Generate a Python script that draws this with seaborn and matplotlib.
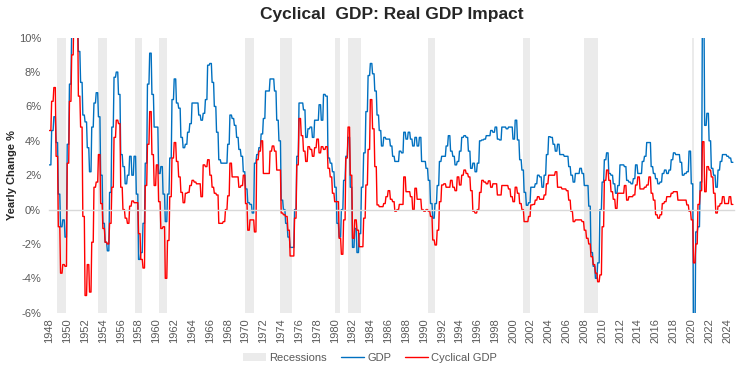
import numpy as np
import pandas as pd
import seaborn as sns
import matplotlib.pyplot as plt
from matplotlib.patches import Patch
from matplotlib.lines import Line2D

# quarterly data, first value = 1948 Q1
start_year = 1948

# Real GDP, yearly change in %
gdp_yoy = [
    2.6, 4.6, 5.4, 3.9,      0.9, -1.0, -0.6, -1.6,   3.8, 7.3, 10.5, 12.5,   11.5, 9.2, 7.4, 5.5,
    5.1, 3.6, 2.2, 4.8,      6.2, 6.8, 5.4, 2.0,      -0.8, -1.9, -2.4, 1.0,  4.8, 7.7, 8.0, 6.7,
    3.2, 2.5, 1.5, 2.0,      3.1, 2.0, 3.1, 0.9,      -2.9, -2.5, -0.8, 2.7,  7.3, 9.1, 6.7, 4.8,
    4.8, 2.1, 2.5, 0.9,      -0.7, 0.9, 3.0, 6.4,     7.6, 6.2, 5.9, 4.2,     3.6, 3.8, 4.5, 5.0,
    6.2, 6.2, 6.2, 5.5,      5.2, 5.6, 6.4, 8.4,      8.5, 7.4, 6.0, 4.5,     2.9, 2.7, 2.7, 2.7,
    3.8, 5.5, 5.3, 4.9,      4.2, 3.5, 3.1, 2.2,      1.2, 0.4, 0.3, -0.2,    2.7, 3.2, 3.6, 4.4,
    5.3, 6.9, 6.9, 7.6,      7.6, 6.9, 5.2, 4.0,      0.55, 0.0, -0.8, -1.6,  -2.2, -2.2, 0.0, 3.1,
    6.2, 6.2, 5.8, 4.2,      4.7, 4.8, 4.2, 5.2,      5.2, 6.1, 5.2, 6.7,     6.6, 3.0, 2.7, 2.2,
    1.3, -0.8, -1.6, 0.0,    1.7, 3.1, 4.2, 1.3,      -2.2, -1.1, -2.5, -1.4, 1.3, 3.3, 5.7, 7.8,
    8.5, 7.9, 6.9, 5.5,      4.6, 3.7, 4.2, 4.1,      4.1, 3.7, 3.1, 2.8,     2.8, 3.4, 3.3, 4.5,
    4.1, 4.5, 4.1, 3.7,      4.2, 3.7, 4.2, 2.8,      2.8, 2.4, 1.7, 0.35,    -0.5, 0.35, 1.4, 2.8,
    3.1, 3.1, 3.7, 4.3,      3.4, 3.1, 2.6, 2.8,      3.4, 4.2, 4.3, 4.2,     3.4, 2.4, 2.7, 2.2,
    2.7, 4.0, 4.05, 4.1,     4.3, 4.3, 4.6, 4.5,      4.8, 4.1, 4.05, 4.8,    4.8, 4.7, 4.8, 4.8,
    4.1, 5.2, 4.05, 2.9,     2.3, 1.0, 0.25, 0.4,     1.3, 1.3, 1.5, 2.0,     1.9, 1.3, 2.0, 3.2,
    4.24, 4.2, 3.8, 3.4,     3.8, 3.2, 3.2, 3.1,      3.1, 2.5, 2.0, 1.6,     2.1, 2.1, 2.4, 2.1,
    1.4, 1.4, 0.2, -2.5,     -3.3, -4.0, -3.1, 0.0,   1.6, 2.9, 3.3, 2.1,     2.0, 1.5, 0.95, 1.4,
    2.6, 2.6, 2.5, 1.7,      1.6, 1.5, 1.8, 2.6,      2.1, 2.1, 2.8, 3.1,     3.9, 3.9, 2.5, 2.1,
    1.8, 1.5, 1.6, 2.1,      2.3, 2.1, 2.3, 2.9,      3.3, 3.2, 3.2, 2.75,    2.0, 2.1, 2.2, 3.4,
    1.5, -7.5, -1.3, -1.0,   1.6, 12.0, 4.9, 5.6,     4.0, 2.4, 2.0, 1.3,     2.3, 2.8, 3.2, 3.2,
    3.1, 3.0, 2.75,
]

# Cyclical GDP, yearly change in %
cyclical_gdp = [
    4.6, 6.3, 7.1, 3.1,      -1.0, -3.7, -3.2, -3.3,  2.7, 6.3, 9.0, 11.5,    11.5, 6.6, 4.8, -0.4,
    -5.0, -3.2, -4.8, -1.9,  1.3, 1.6, 3.2, 0.35,     -1.1, -1.9, -2.0, -0.8, 1.3, 4.2, 5.2, 5.0,
    1.3, 0.0, -0.5, -0.8,    0.2, 0.5, 0.4, 0.4,      -1.4, -2.9, -3.4, 1.4,  3.8, 5.7, 3.2, 1.4,
    2.6, 0.46, -1.1, -1.0,   -4.0, -1.8, 0.75, 3.0,   3.9, 2.8, 1.9, 1.0,     0.4, 0.95, 1.0, 1.4,
    1.7, 1.6, 1.5, 1.5,      0.75, 2.6, 2.5, 2.9,     2.0, 1.3, 0.95, 0.85,   -0.8, -0.8, -0.7, 0.0,
    0.8, 2.7, 1.9, 1.9,      1.9, 1.3, 1.4, 2.0,      0.35, -1.2, -0.6, -0.6, -1.3, 2.9, 3.4, 4.0,
    2.1, 2.1, 2.1, 3.4,      3.7, 3.4, 2.3, 2.3,      -0.2, -0.3, -0.4, -1.2, -2.7, -2.7, -0.5, 2.6,
    5.3, 4.3, 3.4, 2.8,      3.66, 3.5, 3.1, 3.6,     4.1, 3.3, 3.66, 3.5,    3.66, 2.4, 1.9, 0.95,
    0.46, 0.46, -1.67, -2.6, -0.6, 3.0, 4.8, 2.0,     -1.67, -0.6, -1.2, -2.16, -2.16, -0.5, 1.43, 3.5,
    6.4, 4.7, 2.5, 0.27,     0.17, 0.17, 0.35, 0.75,  1.1, 0.6, 0.46, -0.1,   0.0, 0.3, 0.3, 1.9,
    1.04, 1.04, 0.75, 0.0,   1.24, 0.6, 0.6, 0.0,     -0.1, 0.0, -0.1, -0.4,  -1.77, -2.06, -1.2, 0.46,
    1.43, 1.5, 1.3, 1.3,     1.7, 1.3, 1.1, 1.9,      1.43, 2.0, 2.3, 2.1,    1.9, 1.1, -0.1, -0.2,
    0.0, 1.0, 1.7, 1.6,      1.5, 1.67, 1.3, 1.5,     1.5, 0.85, 0.85, 1.4,   1.4, 1.4, 1.2, 0.75,
    0.46, 1.3, 0.95, 0.35,   0.0, -0.7, -0.7, -0.4,   0.27, 0.3, 0.55, 0.75,  0.6, 0.6, 0.85, 1.5,
    2.0, 2.0, 2.0, 2.2,      1.3, 1.3, 1.2, 1.2,      1.1, 0.55, -0.1, -0.7,  -0.6, -0.6, -0.6, -0.7,
    -1.2, -1.67, -2.0, -2.74, -3.2, -3.7, -4.2, -3.8, -1.0, 1.7, 2.3, 1.7,    1.04, 0.6, 0.07, 0.95,
    0.95, 0.95, 1.4, 0.55,   0.75, 0.75, 0.85, 1.43,  1.9, 1.2, 1.2, 1.3,     1.43, 1.9, 0.95, 0.55,
    -0.3, -0.5, -0.3, 0.35,  0.46, 0.75, 0.75, 0.95,  1.04, 1.04, 0.55, 0.55, 0.55, 0.55, 0.27, -0.1,
    -0.6, -3.1, -2.0, 0.3,   1.1, 3.95, 1.04, 2.5,    2.3, 1.9, 0.95, -0.2,   0.2, 0.35, 0.75, 0.35,
    0.35, 0.75, 0.3,
]

# NBER recessions (start year, start month, end year, end month)
recessions = [
    (1948, 11, 1949, 10), (1953, 7, 1954, 5), (1957, 8, 1958, 4), (1960, 4, 1961, 2),
    (1969, 12, 1970, 11), (1973, 11, 1975, 3), (1980, 1, 1980, 7), (1981, 7, 1982, 11),
    (1990, 7, 1991, 3), (2001, 3, 2001, 11), (2007, 12, 2009, 6), (2020, 2, 2020, 4),
]

tick_years = list(range(1948, 2025, 2))
y_ticks = [-6, -4, -2, 0, 2, 4, 6, 8, 10]

blue = "#0070C0"
red = "#FF0000"
grey_text = "#595959"

##################### monthly frame (each quarter held for 3 months) #####################
n_months = len(gdp_yoy) * 3
t = start_year + np.arange(n_months) / 12
df = pd.DataFrame({
    "t": np.tile(t, 2),
    "value": np.concatenate([np.repeat(gdp_yoy, 3), np.repeat(cyclical_gdp, 3)]),
    "series": ["GDP"] * n_months + ["Cyclical GDP"] * n_months,
})

sns.set_theme(style="white")
plt.rcParams["font.family"] = ["Liberation Sans", "DejaVu Sans"]

fig = plt.figure(figsize=(7.5, 3.74), dpi=100)
ax = fig.add_axes([49.4 / 750, 61.3 / 374, (734 - 49.4) / 750, 275 / 374])

# recession bands
for y0, m0, y1, m1 in recessions:
    ax.axvspan(y0 + (m0 - 1) / 12, y1 + m1 / 12, color="#ebebeb", lw=0, zorder=0)

sns.lineplot(data=df, x="t", y="value", hue="series", hue_order=["GDP", "Cyclical GDP"],
             palette={"GDP": blue, "Cyclical GDP": red}, estimator=None,
             linewidth=1.0, legend=False, ax=ax)

ax.set_xlim(1948, 1948 + (734 - 49.4) / 8.915)
ax.set_ylim(-6, 10)
ax.set_xlabel("")
ax.set_ylabel("")

# y axis
ax.set_yticks(y_ticks)
ax.set_yticklabels([f"{v}%" for v in y_ticks], color=grey_text, fontsize=8)
ax.tick_params(axis="y", length=0, pad=6)

# zero line with small ticks
for s in ["top", "right", "left"]:
    ax.spines[s].set_visible(False)
ax.spines["bottom"].set_position(("data", 0))
ax.spines["bottom"].set_color("#d9d9d9")
ax.spines["bottom"].set_linewidth(1.0)
ax.set_xticks(tick_years)
ax.tick_params(axis="x", direction="out", length=3, color="#d9d9d9", labelbottom=False)

# year labels at the bottom
sec = ax.secondary_xaxis("bottom")
sec.set_xticks(tick_years)
sec.set_xticklabels([str(y) for y in tick_years], rotation=90, color=grey_text, fontsize=8)
sec.tick_params(length=0, pad=4)
sec.spines["bottom"].set_visible(False)

# titles
fig.text(392 / 750, 1 - 14 / 374, "Cyclical  GDP: Real GDP Impact", ha="center", va="center",
         fontsize=12.5, fontweight="bold")
fig.text(12 / 750, 1 - 175 / 374, "Yearly Change %", rotation=90, ha="center", va="center",
         fontsize=8, fontweight="bold")

# legend
handles = [Patch(facecolor="#ebebeb", edgecolor="none"),
           Line2D([], [], color=blue, lw=1.0),
           Line2D([], [], color=red, lw=1.0)]
fig.legend(handles, ["Recessions", "GDP", "Cyclical GDP"], loc="center",
           bbox_to_anchor=(370 / 750, 1 - 358 / 374), ncol=3, frameon=False, fontsize=8,
           labelcolor=grey_text, handlelength=2.1, handletextpad=0.3, columnspacing=1.2)

fig.savefig("out.png", dpi=100)
